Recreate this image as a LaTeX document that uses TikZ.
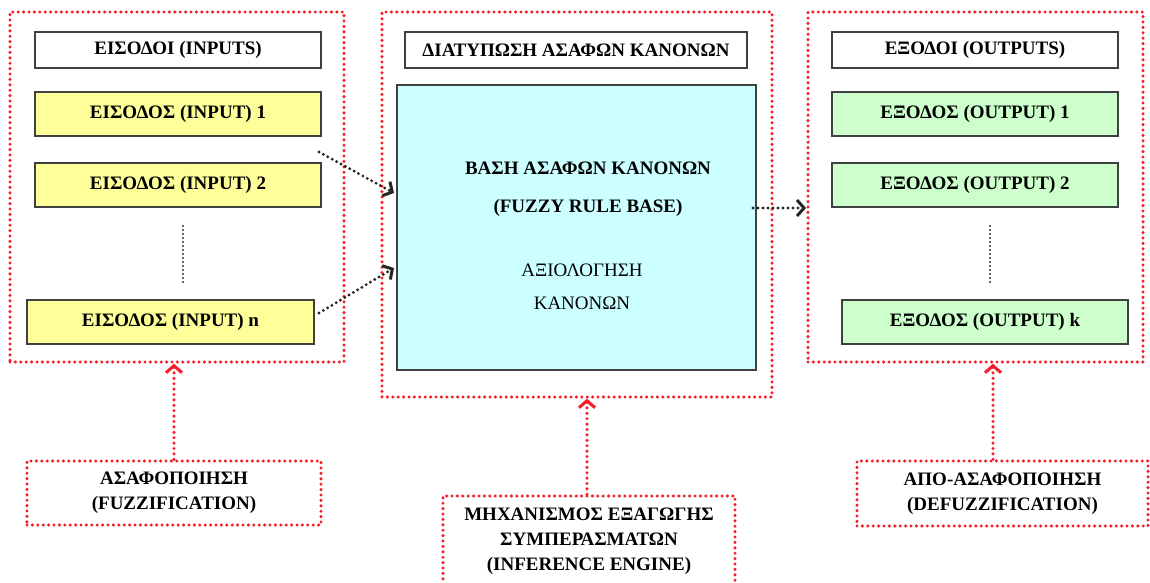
\documentclass[tikz,border=0pt]{standalone}
\usepackage{fontspec}
\setmainfont{Liberation Serif}
\usetikzlibrary{arrows.meta,calc}
\definecolor{rdot}{RGB}{245,30,40}
\definecolor{bord}{RGB}{64,64,64}
\definecolor{yel}{RGB}{255,255,153}
\definecolor{grn}{RGB}{204,255,204}
\definecolor{cyn}{RGB}{204,255,255}
\tikzset{
  box/.style={draw=bord, line width=1.8pt, inner sep=0pt, align=center,
    font=\fontsize{19}{22}\selectfont\bfseries},
  cont/.style={draw=rdot, line width=3.4pt, dash pattern=on 0pt off 5.4pt, line cap=round, inner sep=0pt},
  rarrow/.style={draw=rdot, line width=3.4pt, dash pattern=on 0pt off 5.4pt, line cap=round,
    -{Straight Barb[length=7pt,width=16pt,line width=3pt]}},
  barrow/.style={draw=black!85, line width=3.2pt, dash pattern=on 0pt off 5pt, line cap=round,
    -{Straight Barb[length=7pt,width=16pt,line width=3pt]}},
  vdots/.style={draw=black!80, line width=2.2pt, dash pattern=on 0pt off 4pt, line cap=round},
  lbl/.style={align=center, inner sep=0pt, font=\fontsize{19}{25}\selectfont\bfseries}
}
\begin{document}
\begin{tikzpicture}[x=1pt,y=-1pt]
\useasboundingbox (0,0) rectangle (1150,582);
\clip (0,0) rectangle (1150,582);
% containers
\node[cont, minimum width=334pt, minimum height=350pt] (cin) at (177,187) {};
\node[cont, minimum width=390pt, minimum height=385pt] (cmid) at (577,204.5) {};
\node[cont, minimum width=335pt, minimum height=350pt] (cout) at (975.5,187) {};
% inputs
\node[box, fill=white, minimum width=286pt, minimum height=36pt] (inh) at (178,50) {ΕΙΣΟΔΟΙ (INPUTS)};
\node[box, fill=yel, minimum width=286pt, minimum height=44pt] (in1) at (178,114) {ΕΙΣΟΔΟΣ (INPUT) 1};
\node[box, fill=yel, minimum width=286pt, minimum height=44pt] (in2) at (178,185) {ΕΙΣΟΔΟΣ (INPUT) 2};
\node[box, fill=yel, minimum width=287pt, minimum height=44pt] (inn) at (170.5,322) {ΕΙΣΟΔΟΣ (INPUT) n};
\coordinate (vi1) at (183,226);
\coordinate (vi2) at (183,282);
\draw[vdots] (vi1) -- (vi2);
% middle
\node[box, fill=white, minimum width=342pt, minimum height=36pt] (mh) at (576,50) {ΔΙΑΤΥΠΩΣΗ ΑΣΑΦΩΝ ΚΑΝΟΝΩΝ};
\node[box, fill=cyn, minimum width=359pt, minimum height=285pt] (rb) at (576.5,227.5) {};
\node[lbl, font=\fontsize{19}{38}\selectfont\bfseries] (rbt) at (588,189) {ΒΑΣΗ ΑΣΑΦΩΝ ΚΑΝΟΝΩΝ\\(FUZZY RULE BASE)};
\node[lbl, font=\fontsize{19}{33}\selectfont] (ev) at (582,286.5) {ΑΞΙΟΛΟΓΗΣΗ\\ΚΑΝΟΝΩΝ};
% outputs
\node[box, fill=white, minimum width=286pt, minimum height=36pt] (outh) at (975,50) {ΕΞΟΔΟΙ (OUTPUTS)};
\node[box, fill=grn, minimum width=286pt, minimum height=44pt] (o1) at (975,114) {ΕΞΟΔΟΣ (OUTPUT) 1};
\node[box, fill=grn, minimum width=286pt, minimum height=44pt] (o2) at (975,185) {ΕΞΟΔΟΣ (OUTPUT) 2};
\node[box, fill=grn, minimum width=286pt, minimum height=44pt] (ok) at (985,322) {ΕΞΟΔΟΣ (OUTPUT) k};
\coordinate (vo1) at (990,226);
\coordinate (vo2) at (990,282);
\draw[vdots] (vo1) -- (vo2);
% black arrows
\coordinate (a1s) at (319,152);
\coordinate (a1e) at (394,193);
\coordinate (a2s) at (319,313);
\coordinate (a2e) at (394,268);
\coordinate (a3s) at (753,208);
\coordinate (a3e) at (806,208);
\draw[barrow] (a1s) -- (a1e);
\draw[barrow] (a2s) -- (a2e);
\draw[barrow] (a3s) -- (a3e);
% bottom boxes
\node[cont, minimum width=294pt, minimum height=64pt] (fz) at (174,493) {};
\node[lbl] at (fz.center) {ΑΣΑΦΟΠΟΙΗΣΗ\\(FUZZIFICATION)};
\node[cont, minimum width=292pt, minimum height=100pt] (ie) at (589,546) {};
\node[lbl] (iet) at (589,541) {ΜΗΧΑΝΙΣΜΟΣ ΕΞΑΓΩΓΗΣ\\ΣΥΜΠΕΡΑΣΜΑΤΩΝ\\(INFERENCE ENGINE)};
\node[cont, minimum width=291pt, minimum height=65pt] (df) at (1002.5,493.5) {};
\node[lbl] at (df.center) {ΑΠΟ-ΑΣΑΦΟΠΟΙΗΣΗ\\(DEFUZZIFICATION)};
% red arrows
\draw[rarrow] (fz.north) -- (fz.north |- cin.south);
\draw[rarrow] ([xshift=-2pt]ie.north) -- ([xshift=-2pt]ie.north |- cmid.south);
\draw[rarrow] ([xshift=-9.5pt]df.north) -- ([xshift=-9.5pt]df.north |- cout.south);
\end{tikzpicture}
\end{document}
